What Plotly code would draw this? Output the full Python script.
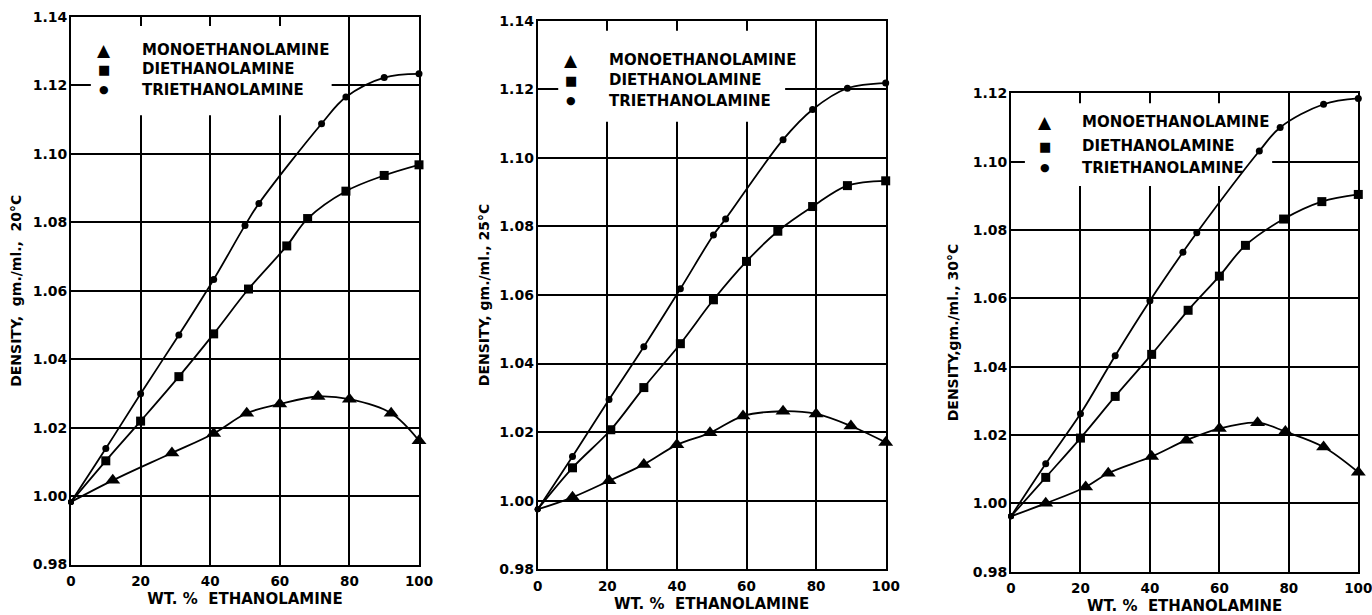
import plotly.graph_objects as go

# ---------------- data ----------------
# 20 °C
mea_x_20 = [0, 12, 29, 41, 50.5, 60, 71, 80, 92, 100]
mea_y_20 = [0.9983, 1.0046, 1.0126, 1.0183, 1.0242, 1.0269, 1.0291, 1.0283, 1.0242, 1.0162]
dea_x_20 = [0, 10, 20, 31, 41, 51, 62, 68, 79, 90, 100]
dea_y_20 = [0.9983, 1.0103, 1.0219, 1.0349, 1.0474, 1.0605, 1.0731, 1.0811, 1.0891, 1.0937, 1.0968]
tea_x_20 = [0, 10, 20, 31, 41, 50, 54, 72, 79, 90, 100]
tea_y_20 = [0.9983, 1.0139, 1.0299, 1.0471, 1.0633, 1.0791, 1.0855, 1.1088, 1.1166, 1.1223, 1.1234]

# 25 °C
mea_x_25 = [0, 10, 20.5, 30.5, 40, 49.5, 59, 70.5, 80, 90, 100]
mea_y_25 = [0.9975, 1.0010, 1.0058, 1.0106, 1.0163, 1.0198, 1.0247, 1.0261, 1.0253, 1.0218, 1.0170]
dea_x_25 = [0, 10, 21, 30.5, 41, 50.5, 60, 69, 79, 89, 100]
dea_y_25 = [0.9975, 1.0096, 1.0207, 1.0330, 1.0458, 1.0586, 1.0698, 1.0786, 1.0858, 1.0919, 1.0933]
tea_x_25 = [0, 10, 20.5, 30.5, 41, 50.5, 54, 70.5, 79, 89, 100]
tea_y_25 = [0.9975, 1.0129, 1.0295, 1.0449, 1.0618, 1.0775, 1.0822, 1.1053, 1.1141, 1.1203, 1.1218]

# 30 °C
mea_x_30 = [0, 10, 21.5, 28, 40.5, 50.5, 60, 71, 79, 90, 100]
mea_y_30 = [0.9962, 1.0000, 1.0048, 1.0088, 1.0137, 1.0185, 1.0219, 1.0236, 1.0210, 1.0165, 1.0091]
dea_x_30 = [0, 10, 20, 30, 40.5, 51, 60, 67.5, 78.5, 89.5, 100]
dea_y_30 = [0.9962, 1.0076, 1.0191, 1.0313, 1.0436, 1.0565, 1.0665, 1.0755, 1.0832, 1.0883, 1.0904]
tea_x_30 = [0, 10, 20, 30, 40, 49.5, 53.5, 71.5, 77.5, 90, 100]
tea_y_30 = [0.9962, 1.0116, 1.0262, 1.0432, 1.0593, 1.0735, 1.0792, 1.1031, 1.1100, 1.1168, 1.1185]

series_names = ["MONOETHANOLAMINE", "DIETHANOLAMINE", "TRIETHANOLAMINE"]
panel_temps = ["20°C", "25°C", "30°C"]
y_titles = ["DENSITY,\u00a0 gm./ml.,\u00a0 20°C", "DENSITY, gm./ml., 25°C", "DENSITY,gm./ml., 30°C"]
x_title = "WT. %\u00a0 ETHANOLAMINE"
x_ticks = [0, 20, 40, 60, 80, 100]
y_ticks_a = [0.98, 1.00, 1.02, 1.04, 1.06, 1.08, 1.10, 1.12, 1.14]
y_ticks_b = [0.98, 1.00, 1.02, 1.04, 1.06, 1.08, 1.10, 1.12]

panels = [
    [(mea_x_20, mea_y_20), (dea_x_20, dea_y_20), (tea_x_20, tea_y_20)],
    [(mea_x_25, mea_y_25), (dea_x_25, dea_y_25), (tea_x_25, tea_y_25)],
    [(mea_x_30, mea_y_30), (dea_x_30, dea_y_30), (tea_x_30, tea_y_30)],
]

# ---------------- style / layout ----------------
W, H = 1372, 615
FONT = "DejaVu Sans"
symbols = ["triangle-up", "square", "circle"]
msizes = [13, 9, 7]
legend_glyphs = ["\u25B2", "\u25A0", "\u25CF"]
legend_glyph_sizes = [17, 13, 11]

# plot area pixel boxes (left, right, top, bottom)
boxes = [(71, 419, 17, 564.5), (537.7, 885.7, 20.7, 569.3), (1011, 1358.3, 93.3, 571.7)]
y_ranges = [[0.98, 1.14], [0.98, 1.14], [0.98, 1.12]]
y_tickss = [y_ticks_a, y_ticks_a, y_ticks_b]
title_standoffs = [8, 6, 11]
legend_rows = [[0.9397, 0.9045, 0.8667], [0.9284, 0.8919, 0.8537], [0.940, 0.8898, 0.8439]]
legend_sym_x = [0.0948, 0.0957, 0.0993]
legend_txt_x = [0.1983, 0.1983, 0.1987]
masks = [(5.7, 74.9, 1.1113, 1.1374), (5.9, 71.1, 1.1105, 1.1371), (4.0, 75.2, 1.0929, 1.1171)]

fig = go.Figure()
layout = dict(
    width=W, height=H,
    margin=dict(l=0, r=0, t=0, b=0),
    paper_bgcolor="white", plot_bgcolor="white",
    showlegend=False,
    font=dict(family=FONT, color="black"),
)
annotations = []
shapes = []

for i, panel in enumerate(panels):
    k = "" if i == 0 else str(i + 1)
    xa, ya = "x" + k, "y" + k
    for j, (xs, ys) in enumerate(panel):
        sym = ["circle"] + [symbols[j]] * (len(xs) - 1)
        siz = [6] + [msizes[j]] * (len(xs) - 1)
        fig.add_trace(go.Scatter(
            x=xs, y=ys, mode="lines+markers", name=series_names[j] + " " + panel_temps[i],
            line=dict(color="black", width=1.8, shape="spline", smoothing=1.0),
            marker=dict(color="black", symbol=sym, size=siz, line=dict(width=0), opacity=1),
            cliponaxis=False, xaxis=xa, yaxis=ya,
        ))
    l, r, t, b = boxes[i]
    common = dict(
        showline=True, linecolor="black", linewidth=2, mirror=True,
        showgrid=True, gridcolor="black", gridwidth=1.6, zeroline=False,
        ticks="", automargin=False, ticklabeloverflow="allow",
    )
    layout["xaxis" + k] = dict(
        common, domain=[l / W, r / W], range=[0, 100], tickvals=x_ticks,
        anchor=ya, ticklabelstandoff=3,
        tickfont=dict(family=FONT, size=13.5, color="black", weight="bold"),
        title=dict(text=x_title, font=dict(family=FONT, size=15, color="black", weight="bold"), standoff=6),
    )
    layout["yaxis" + k] = dict(
        common, domain=[1 - b / H, 1 - t / H], range=y_ranges[i], tickvals=y_tickss[i],
        tickformat=".2f", anchor=xa, ticklabelstandoff=-1,
        tickfont=dict(family=FONT, size=14, color="black", weight="bold"),
        title=dict(text=y_titles[i], font=dict(family=FONT, size=14, color="black", weight="bold"),
                   standoff=title_standoffs[i]),
    )
    # white masks hiding grid lines behind the key
    x0, x1, y0, y1 = masks[i]
    shapes.append(dict(type="rect", xref=xa, yref=ya, x0=x0, x1=x1, y0=y0, y1=y1,
                       fillcolor="white", line=dict(width=0), layer="between"))
    # key
    for j in range(3):
        annotations.append(dict(
            xref=xa + " domain", yref=ya + " domain", x=legend_sym_x[i], y=legend_rows[i][j],
            text=legend_glyphs[j], showarrow=False, xanchor="center", yanchor="middle",
            font=dict(family=FONT, size=legend_glyph_sizes[j], color="black"),
        ))
        annotations.append(dict(
            xref=xa + " domain", yref=ya + " domain", x=legend_txt_x[i], y=legend_rows[i][j],
            text=series_names[j], showarrow=False, xanchor="left", yanchor="middle",
            font=dict(family=FONT, size=15, color="black", weight="bold"),
        ))

layout["annotations"] = annotations
layout["shapes"] = shapes
fig.update_layout(**layout)
fig.write_html(
    "out.html",
    config={"displayModeBar": False},
    post_script="document.body.style.margin='0';document.body.style.overflow='hidden';",
)
